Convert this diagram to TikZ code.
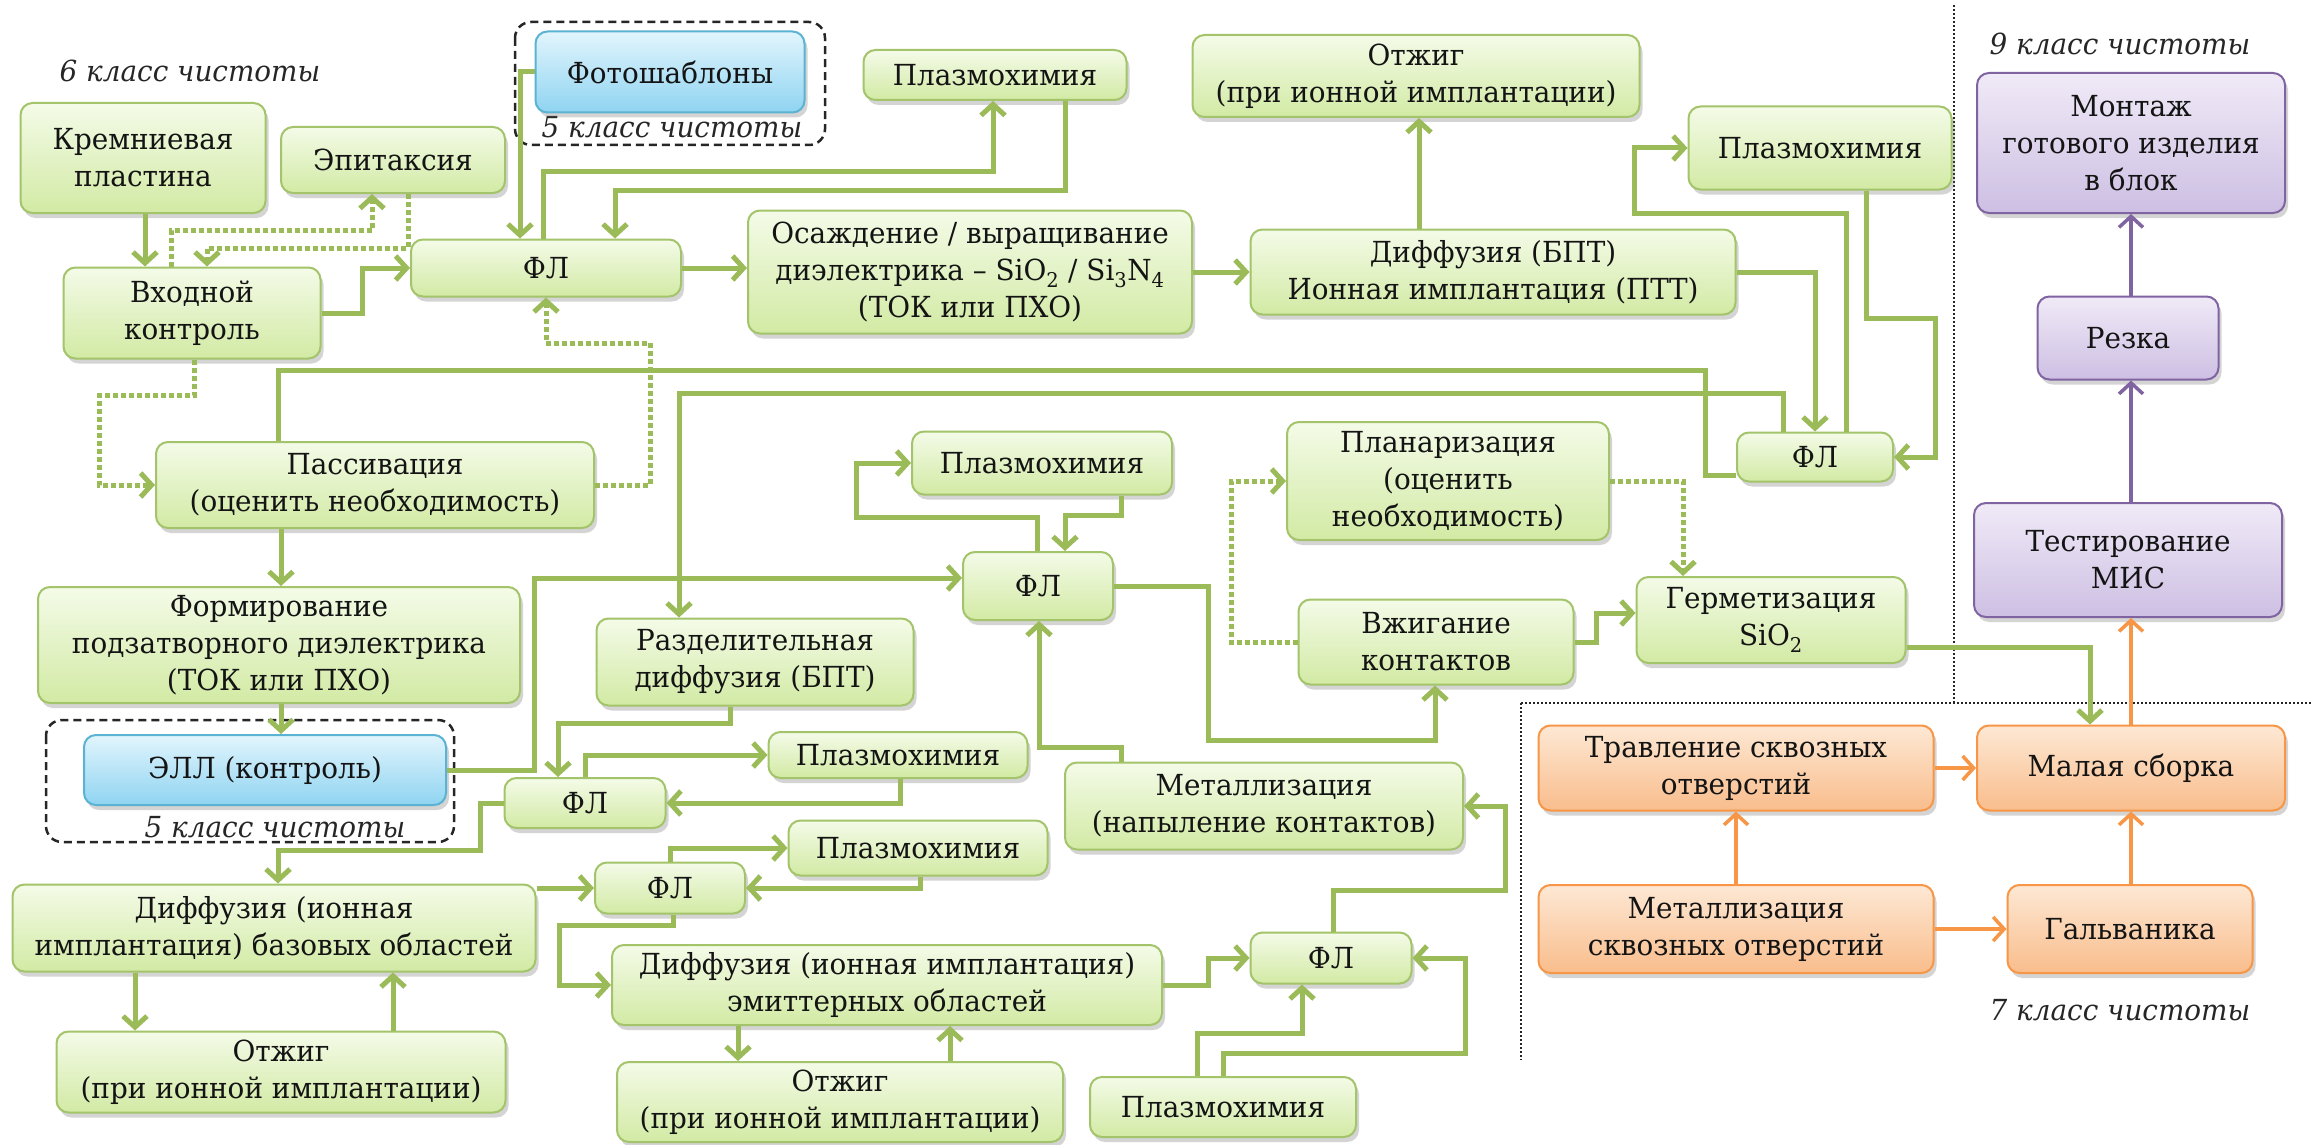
\documentclass[tikz,border=0pt]{standalone}
\usepackage{fontspec}
\setmainfont{DejaVu Serif}[FakeStretch=0.96]
\usetikzlibrary{arrows.meta,shadows}

\definecolor{gline}{HTML}{9BBB59}
\definecolor{gborder}{HTML}{A3C46A}
\definecolor{gtop}{HTML}{F4FBE8}
\definecolor{gbot}{HTML}{D2EAA4}
\definecolor{bborder}{HTML}{5BB3D3}
\definecolor{btop}{HTML}{E2F5FD}
\definecolor{bbot}{HTML}{8FD4F1}
\definecolor{pborder}{HTML}{8064A2}
\definecolor{ptop}{HTML}{F0EAF7}
\definecolor{pbot}{HTML}{CDBFE3}
\definecolor{oborder}{HTML}{F79646}
\definecolor{otop}{HTML}{FDE8D4}
\definecolor{obot}{HTML}{F9BD8C}

\begin{document}
\begin{tikzpicture}[x=1pt,y=-1pt,
  box/.style={rectangle, rounded corners=12pt, line width=2pt, align=center,
    inner sep=0pt, font=\fontsize{29}{37}\selectfont, text=black!92,
    drop shadow={shadow xshift=3pt, shadow yshift=-5pt, opacity=0.28, fill=black!60}},
  gbox/.style={box, draw=gborder, top color=gtop, bottom color=gbot},
  bbox/.style={box, draw=bborder, top color=btop, bottom color=bbot},
  pbox/.style={box, draw=pborder, top color=ptop, bottom color=pbot},
  obox/.style={box, draw=oborder, top color=otop, bottom color=obot},
  sz/.style 2 args={minimum width=#1pt, minimum height=#2pt},
  lbl/.style={font=\fontsize{29}{37}\selectfont\itshape, text=black!85, inner sep=0pt},
  tip/.style={-{Straight Barb[length=11pt,width=24pt]}},
  conn/.style={line width=5pt, draw=gline},
  arr/.style={conn, tip},
  dots/.style={conn, dash pattern=on 5pt off 3pt},
  darr/.style={dots, tip},
  parr/.style={line width=3.5pt, draw=pborder, tip},
  oarr/.style={line width=3.5pt, draw=oborder, tip},
  frame/.style={draw=black!85, line width=2.5pt, dash pattern=on 8pt off 5pt, rounded corners=16pt},
  divider/.style={draw=black!85, line width=2pt, dash pattern=on 2pt off 2pt}]

\useasboundingbox[fill=white] (0,0) rectangle (2311,1145);

% cleanliness zones
\draw[divider] (1954,5) -- (1954,703);
\draw[divider] (1521,703) -- (2311,703);
\draw[divider] (1521,703) -- (1521,1060);
\draw[frame] (515,22) rectangle (825,145);
\draw[frame] (46,720) rectangle (454,842);

\node[lbl] (cl6) at (190,71) {6 класс чистоты};
\node[lbl] (cl5a) at (672,127) {5 класс чистоты};
\node[lbl] (cl5b) at (275,827) {5 класс чистоты};
\node[lbl] (cl9) at (2120,44) {9 класс чистоты};
\node[lbl] (cl7) at (2120,1010) {7 класс чистоты};

% process steps
\node[bbox, sz={269}{81}] (foto) at (670,72) {Фотошаблоны};
\node[gbox, sz={245}{110}] (kr) at (143,158) {Кремниевая\\пластина};
\node[gbox, sz={224}{66}] (epi) at (393,160) {Эпитаксия};
\node[gbox, sz={257}{91}] (vk) at (192,313) {Входной\\контроль};
\node[gbox, sz={270}{57}] (fl1) at (546,268) {ФЛ};
\node[gbox, sz={263}{50}] (pl1) at (995,75) {Плазмохимия};
\node[gbox, sz={447}{82}] (otz1) at (1416,76) {Отжиг\\(при ионной имплантации)};
\node[gbox, sz={444}{123}] (osa) at (970,272) {Осаждение / выращивание\\диэлектрика – SiO\textsubscript{2} / Si\textsubscript{3}N\textsubscript{4}\\(ТОК или ПХО)};
\node[gbox, sz={485}{85}] (dif1) at (1493,272) {Диффузия (БПТ)\\Ионная имплантация (ПТТ)};
\node[gbox, sz={263}{83}] (pl2) at (1820,148) {Плазмохимия};
\node[gbox, sz={156}{49}] (fl2) at (1815,457) {ФЛ};
\node[gbox, sz={438}{86}] (pas) at (375,485) {Пассивация\\(оценить необходимость)};
\node[gbox, sz={482}{116}] (form) at (279,645) {Формирование\\подзатворного диэлектрика\\(ТОК или ПХО)};
\node[bbox, sz={362}{70}] (ell) at (265,770) {ЭЛЛ (контроль)};
\node[gbox, sz={260}{63}] (pl3) at (1042,463) {Плазмохимия};
\node[gbox, sz={150}{68}] (fl3) at (1038,586) {ФЛ};
\node[gbox, sz={322}{118}] (plan) at (1448,481) {Планаризация\\(оценить\\необходимость)};
\node[gbox, sz={275}{85}] (vzh) at (1436,642) {Вжигание\\контактов};
\node[gbox, sz={269}{86}] (germ) at (1771,620) {Герметизация\\SiO\textsubscript{2}};
\node[gbox, sz={317}{87}] (razd) at (755,662) {Разделительная\\диффузия (БПТ)};
\node[gbox, sz={161}{50}] (fl4) at (585,803) {ФЛ};
\node[gbox, sz={259}{46}] (pl4) at (898,755) {Плазмохимия};
\node[gbox, sz={398}{87}] (met) at (1264,806) {Металлизация\\(напыление контактов)};
\node[gbox, sz={150}{51}] (fl5) at (670,888) {ФЛ};
\node[gbox, sz={259}{55}] (pl5) at (918,848) {Плазмохимия};
\node[gbox, sz={523}{87}] (difb) at (274,928) {Диффузия (ионная\\имплантация) базовых областей};
\node[gbox, sz={449}{81}] (otzb) at (281,1072) {Отжиг\\(при ионной имплантации)};
\node[gbox, sz={550}{80}] (dife) at (887,985) {Диффузия (ионная имплантация)\\эмиттерных областей};
\node[gbox, sz={446}{80}] (otze) at (840,1102) {Отжиг\\(при ионной имплантации)};
\node[gbox, sz={161}{51}] (fl6) at (1331,958) {ФЛ};
\node[gbox, sz={266}{60}] (pl6) at (1223,1107) {Плазмохимия};

\node[pbox, sz={308}{140}] (mont) at (2131,143) {Монтаж\\готового изделия\\в блок};
\node[pbox, sz={181}{83}] (rez) at (2128,338) {Резка};
\node[pbox, sz={308}{114}] (test) at (2128,560) {Тестирование\\МИС};

\node[obox, sz={395}{85}] (trav) at (1736,768) {Травление сквозных\\отверстий};
\node[obox, sz={308}{85}] (mal) at (2131,768) {Малая сборка};
\node[obox, sz={395}{88}] (mets) at (1736,929) {Металлизация\\сквозных отверстий};
\node[obox, sz={245}{88}] (galv) at (2130,929) {Гальваника};

% incoming control and epitaxy
\draw[arr] (145,0 |- kr.south) -- (145,0 |- vk.north);
\draw[darr] (171,0 |- vk.north) |- (372,230) -- (372,0 |- epi.south);
\draw[darr] (408,0 |- epi.south) |- (207,248) -- (207,0 |- vk.north);
\draw[arr] (vk.east) -- ++(41,0) |- (fl1.west);
\draw[arr] (foto.west) -| (520,0 |- fl1.north);
\draw[arr] (543,0 |- fl1.north) |- (993,172) -- (993,0 |- pl1.south);
\draw[arr] (1065,0 |- pl1.south) |- (615,190) -- (615,0 |- fl1.north);
\draw[darr] (194,0 |- vk.south) |- (99,395) |- (pas.west);
\draw[darr] (pas.east) -| (650,343) -| (546,0 |- fl1.south);

% dielectric, diffusion and the upper right lithography
\draw[arr] (fl1.east) -- (fl1.east -| osa.west);
\draw[arr] (osa.east) -- (osa.east -| dif1.west);
\draw[arr] (1419,0 |- dif1.north) -- (1419,0 |- otz1.south);
\draw[arr] (dif1.east) -| (1815,0 |- fl2.north);
\draw[arr] (1846,0 |- fl2.north) |- (1634,213) |- (pl2.west);
\draw[arr] (1866,0 |- pl2.south) |- (1935,318) |- (fl2.east);
\draw[conn] (278,0 |- pas.north) |- (1705,370) |- (fl2.west |- 0,475);
\draw[arr] (1783,0 |- fl2.north) |- (679,393) -- (679,0 |- razd.north);

% gate dielectric and separation diffusion
\draw[arr] (281,0 |- pas.south) -- (281,0 |- form.north);
\draw[arr] (281,0 |- form.south) -- (281,0 |- ell.north);
\draw[arr] (ell.east) -| (534,578) -- (fl3.west |- 0,578);
\draw[arr] (730,0 |- razd.south) |- (558,723) -- (558,0 |- fl4.north);
\draw[arr] (585,0 |- fl4.north) |- (pl4.west);
\draw[arr] (900,0 |- pl4.south) |- (fl4.east);
\draw[arr] (fl4.west) -| (480,850) -| (278,0 |- difb.north);

% base and emitter regions
\draw[arr] (difb.east |- fl5.west) -- (fl5.west);
\draw[arr] (670,0 |- fl5.north) |- (pl5.west);
\draw[arr] (920,0 |- pl5.south) |- (fl5.east);
\draw[arr] (673,0 |- fl5.south) |- (559,925) |- (dife.west);
\draw[arr] (135,0 |- difb.south) -- (135,0 |- otzb.north);
\draw[arr] (393,0 |- otzb.north) -- (393,0 |- difb.south);
\draw[arr] (738,0 |- dife.south) -- (738,0 |- otze.north);
\draw[arr] (950,0 |- otze.north) -- (950,0 |- dife.south);

% contacts
\draw[arr] (dife.east) -| (1208,0 |- fl6.west) -- (fl6.west);
\draw[arr] (1333,0 |- fl6.north) |- (1505,890) |- (met.east);
\draw[arr] (1197,0 |- pl6.north) |- (1302,1033) -- (1302,0 |- fl6.south);
\draw[arr] (1223,0 |- pl6.north) |- (1465,1053) |- (fl6.east);
\draw[arr] (1121,0 |- met.north) |- (1039,747) -- (1039,0 |- fl3.south);
\draw[arr] (1037,0 |- fl3.north) |- (856,517) |- (pl3.west);
\draw[arr] (1121,0 |- pl3.south) |- (1065,515) -- (1065,0 |- fl3.north);
\draw[arr] (fl3.east) -| (1208,740) -| (1435,0 |- vzh.south);
\draw[darr] (vzh.west) -| (1231,0 |- plan.west) -- (plan.west);
\draw[darr] (plan.east) -| (1683,0 |- germ.north);
\draw[arr] (vzh.east) -| (1596,613) -- (germ.west |- 0,613);
\draw[arr] (germ.east |- 0,647) -| (2090,0 |- mal.north);

% assembly and test
\draw[oarr] (2131,0 |- mal.north) -- (2131,0 |- test.south);
\draw[parr] (2131,0 |- test.north) -- (2131,0 |- rez.south);
\draw[parr] (2131,0 |- rez.north) -- (2131,0 |- mont.south);
\draw[oarr] (trav.east) -- (mal.west);
\draw[oarr] (1736,0 |- mets.north) -- (1736,0 |- trav.south);
\draw[oarr] (mets.east) -- (galv.west);
\draw[oarr] (2131,0 |- galv.north) -- (2131,0 |- mal.south);
\end{tikzpicture}
\end{document}
